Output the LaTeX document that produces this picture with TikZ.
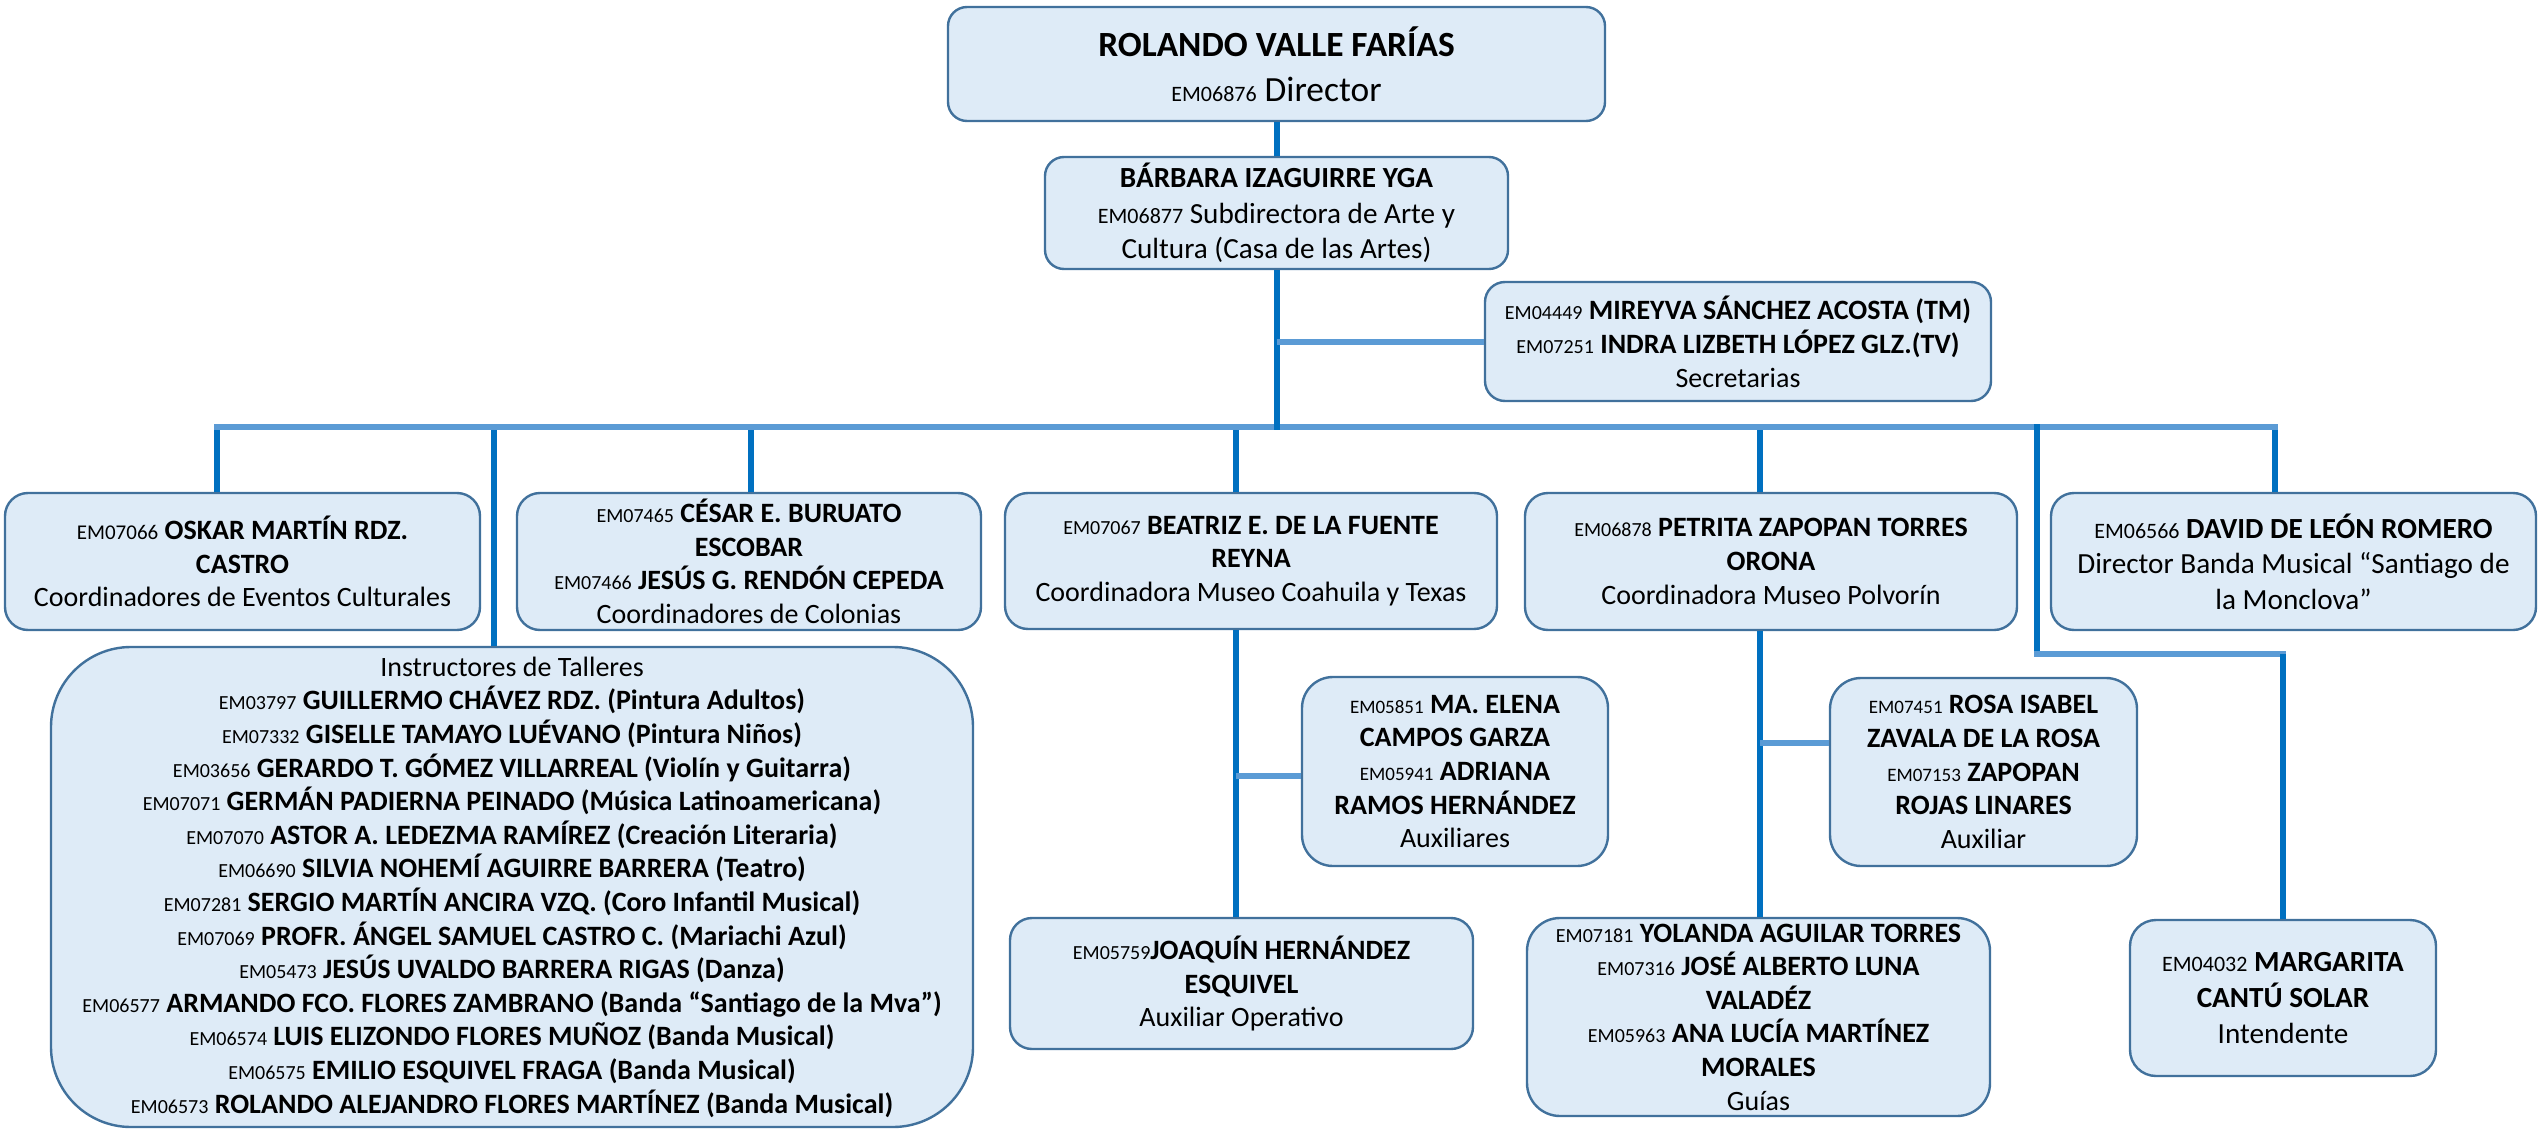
\documentclass[tikz,border=0pt]{standalone}
\usepackage{fontspec}
\setmainfont{Carlito}
\usepackage{tikz}
\usetikzlibrary{calc}

\definecolor{cardfill}{HTML}{DEEBF7}
\definecolor{cardline}{HTML}{41719C}
\definecolor{trunkblue}{HTML}{0070C0}
\definecolor{busblue}{HTML}{5B9BD5}

\newcommand{\emc}[2][10]{{\fontsize{#1}{12}\selectfont #2}}

\tikzset{
  card/.style={draw=cardline, fill=cardfill, line width=1.2pt, rounded corners=#1,
    align=center, inner sep=0pt, font=\fontsize{14}{16.8}\selectfont},
  card/.default=11.5pt,
  big/.style={font=\fontsize{14.6}{17.8}\selectfont},
  wh/.style 2 args={minimum width=#1*0.5pt, minimum height=#2*0.5pt},
  trunk/.style={draw=trunkblue, line width=3pt},
  bus/.style={draw=busblue, line width=3pt}
}

\begin{document}
\begin{tikzpicture}[x=0.5pt,y=-0.5pt]
  \useasboundingbox (0,0) rectangle (2539,1129);
  % direccion
  \node[card=9.5pt, wh={657}{114}, font=\fontsize{17.7}{22.5}\selectfont] (dir) at (1276.5,64)
    {\textbf{ROLANDO VALLE FARÍAS}\\ \emc[11]{EM06876} Director};
  \node[card=9.5pt, wh={463}{112}, big] (sub) at (1276.5,213)
    {\textbf{BÁRBARA IZAGUIRRE YGA}\\ \emc[11]{EM06877} Subdirectora de Arte y\\ Cultura (Casa de las Artes)};
  \node[card=10pt, wh={506}{119}, font=\fontsize{14}{17}\selectfont] (sec) at (1738,341.5)
    {\emc{EM04449} \textbf{MIREYVA SÁNCHEZ ACOSTA (TM)}\\ \emc{EM07251} \textbf{INDRA LIZBETH LÓPEZ GLZ.(TV)}\\ Secretarias};
  % coordinadores
  \node[card, wh={475}{137}] (osk) at (242.5,561.5)
    {\emc[10.5]{EM07066} \textbf{OSKAR MARTÍN RDZ.}\\ \textbf{CASTRO}\\ Coordinadores de Eventos Culturales};
  \node[card, wh={464}{137}] (ces) at (749,561.5)
    {\emc{EM07465} \textbf{CÉSAR E. BURUATO}\\ \textbf{ESCOBAR}\\ \emc{EM07466} \textbf{JESÚS G. RENDÓN CEPEDA}\\ Coordinadores de Colonias};
  \node[card, wh={492}{136}] (bea) at (1251,561)
    {\emc{EM07067} \textbf{BEATRIZ E. DE LA FUENTE}\\ \textbf{REYNA}\\ Coordinadora Museo Coahuila y Texas};
  \node[card, wh={492}{137}] (pet) at (1771,561.5)
    {\emc{EM06878} \textbf{PETRITA ZAPOPAN TORRES}\\ \textbf{ORONA}\\ Coordinadora Museo Polvorín};
  \node[card, wh={485}{137}, big] (dav) at (2293.5,561.5)
    {\emc[11]{EM06566} \textbf{DAVID DE LEÓN ROMERO}\\ Director Banda Musical “Santiago de\\ la Monclova”};
  % talleres
  \node[card=40pt, wh={922}{480}] (ins) at (512,887)
    {Instructores de Talleres\\
     \emc{EM03797} \textbf{GUILLERMO CHÁVEZ RDZ. (Pintura Adultos)}\\
     \emc{EM07332} \textbf{GISELLE TAMAYO LUÉVANO (Pintura Niños)}\\
     \emc{EM03656} \textbf{GERARDO T. GÓMEZ VILLARREAL (Violín y Guitarra)}\\
     \emc{EM07071} \textbf{GERMÁN PADIERNA PEINADO (Música Latinoamericana)}\\
     \emc{EM07070} \textbf{ASTOR A. LEDEZMA RAMÍREZ (Creación Literaria)}\\
     \emc{EM06690} \textbf{SILVIA NOHEMÍ AGUIRRE BARRERA (Teatro)}\\
     \emc{EM07281} \textbf{SERGIO MARTÍN ANCIRA VZQ. (Coro Infantil Musical)}\\
     \emc{EM07069} \textbf{PROFR. ÁNGEL SAMUEL CASTRO C. (Mariachi Azul)}\\
     \emc{EM05473} \textbf{JESÚS UVALDO BARRERA RIGAS (Danza)}\\
     \emc{EM06577} \textbf{ARMANDO FCO. FLORES ZAMBRANO (Banda “Santiago de la Mva”)}\\
     \emc{EM06574} \textbf{LUIS ELIZONDO FLORES MUÑOZ (Banda Musical)}\\
     \emc{EM06575} \textbf{EMILIO ESQUIVEL FRAGA (Banda Musical)}\\
     \emc{EM06573} \textbf{ROLANDO ALEJANDRO FLORES MARTÍNEZ (Banda Musical)}};
  % auxiliares
  \node[card=15.5pt, wh={306}{189}] (auxa) at (1455,771.5)
    {\emc[9.5]{EM05851} \textbf{MA. ELENA}\\ \textbf{CAMPOS GARZA}\\ \emc[9.5]{EM05941} \textbf{ADRIANA}\\ \textbf{RAMOS HERNÁNDEZ}\\ Auxiliares};
  \node[card=15.5pt, wh={307}{188}] (auxb) at (1983.5,772)
    {\emc[9.5]{EM07451} \textbf{ROSA ISABEL}\\ \textbf{ZAVALA DE LA ROSA}\\ \emc[9.5]{EM07153} \textbf{ZAPOPAN}\\ \textbf{ROJAS LINARES}\\ Auxiliar};
  \node[card=11pt, wh={463}{131}] (joa) at (1241.5,983.5)
    {\emc{EM05759}\textbf{JOAQUÍN HERNÁNDEZ}\\ \textbf{ESQUIVEL}\\ Auxiliar Operativo};
  \node[card=16.5pt, wh={463}{198}] (yol) at (1758.5,1017)
    {\emc{EM07181} \textbf{YOLANDA AGUILAR TORRES}\\ \emc{EM07316} \textbf{JOSÉ ALBERTO LUNA}\\ \textbf{VALADÉZ}\\ \emc{EM05963} \textbf{ANA LUCÍA MARTÍNEZ}\\ \textbf{MORALES}\\ Guías};
  \node[card=13pt, wh={306}{156}, big] (mar) at (2283,998)
    {\emc[11]{EM04032} \textbf{MARGARITA}\\ \textbf{CANTÚ SOLAR}\\ Intendente};

  % lineas
  \foreach \n/\x in {osk/217,ins/494,ces/751,bea/1236,pet/1760,dav/2275}
    \draw[trunk] (\x,427) coordinate (top) -- (top |- \n.north);
  \coordinate (busL) at (214,427); \coordinate (busR) at (2278,427);
  \draw[bus] (busL) -- (busR);
  \draw[trunk] (dir.south) -- (sub.north);
  \draw[trunk] (sub.south) -- ($(sub.south |- busL)+(0,3)$);
  \draw[bus] (sub.south |- sec.west) -- (sec.west);
  \coordinate (kM) at (2037,654);
  \draw[trunk] (2037,424) -- (kM);
  \draw[bus] ($(kM)+(-3,0)$) -- ($(kM -| mar.north)+(3,0)$);
  \draw[trunk] (kM -| mar.north) -- (mar.north);
  \coordinate (bT) at (1236,776);
  \draw[trunk] (bT |- bea.south) -- (bT |- joa.north);
  \draw[bus] (bT) -- (bT -| auxa.west);
  \coordinate (pT) at (1760,743);
  \draw[trunk] (pT |- pet.south) -- (pT |- yol.north);
  \draw[bus] (pT) -- (pT -| auxb.west);
\end{tikzpicture}
\end{document}
